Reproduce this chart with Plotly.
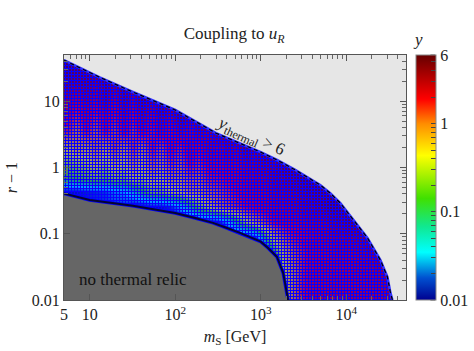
import numpy as np
import plotly.graph_objects as go

_ = None
FONT = "Liberation Serif"

mass = [5.5, 7, 9, 11.5, 15, 19, 25, 32, 41, 53, 68, 88, 113, 145, 187, 240, 310, 400, 510, 660, 850, 1090, 1400, 1800,
        2300, 3000, 3800, 4900, 6300, 8100, 10400, 13300, 17100, 22000, 28000, 36000]
r_minus_1 = [36, 20, 11, 6.2, 3.5, 2, 1.15, 0.7, 0.42, 0.25, 0.15, 0.085, 0.05, 0.03, 0.017, 0.011]
y_map = [
    [5, 5, 5, _, _, _, _, _, _, _, _, _, _, _, _, _, _, _, _, _, _, _, _, _, _, _, _, _, _, _, _, _, _, _, _, _],
    [4.5, 4, 4.5, 3.5, 5, 4, 5, _, _, _, _, _, _, _, _, _, _, _, _, _, _, _, _, _, _, _, _, _, _, _, _, _, _, _, _, _],
    [3, 2.4, 3.5, 2.4, 4, 2.6, 4, 3, 5, 4, 5.5, _, _, _, _, _, _, _, _, _, _, _, _, _, _, _, _, _, _, _, _, _, _, _, _, _],
    [2.2, 1.5, 2.6, 1.6, 2.6, 1.8, 3, 2, 3.5, 2.4, 4, 3, 5, 4, 5.5, _, _, _, _, _, _, _, _, _, _, _, _, _, _, _, _, _, _, _, _, _],
    [1.6, 0.9, 1.9, 1, 2, 1.2, 2.2, 1.3, 2.4, 1.6, 2.6, 2, 3, 2.4, 3.5, 3, 4.5, 4, 5.5, _, _, _, _, _, _, _, _, _, _, _, _, _, _, _, _, _],
    [0.5, 0.7, 0.6, 1, 0.6, 1.3, 0.7, 1.5, 0.8, 1.9, 1.1, 2.2, 1.5, 2.6, 2, 3, 2.6, 3.5, 3, 4.5, 4, 5.5, _, _, _, _, _, _, _, _, _, _, _, _, _, _],
    [0.25, 0.3, 0.35, 0.5, 0.3, 0.6, 0.4, 0.8, 0.5, 1.1, 0.7, 1.4, 1, 1.9, 1.4, 2.2, 2, 2.6, 2.4, 3, 3, 4, 3.5, 5, 5, 5.5, _, _, _, _, _, _, _, _, _, _],
    [0.14, 0.16, 0.2, 0.26, 0.2, 0.3, 0.25, 0.45, 0.35, 0.6, 0.45, 0.8, 0.7, 1.1, 0.95, 1.6, 1.7, 2, 2.2, 2.6, 2.8, 3, 3.5, 4, 4.5, 5, 5, 5.5, _, _, _, _, _, _, _, _],
    [0.012, 0.012, 0.014, 0.016, 0.018, 0.025, 0.03, 0.06, 0.12, 0.25, 0.25, 0.4, 0.45, 0.7, 0.7, 1, 1.1, 1.5, 1.9, 2.2, 2.4, 2.6, 3, 3.2, 3.6, 4, 4.5, 5, 5, 5.5, _, _, _, _, _, _],
    [_, _, _, _, _, _, _, 0.01, 0.01, 0.012, 0.012, 0.015, 0.03, 0.08, 0.2, 0.4, 0.8, 1.1, 1.4, 1.9, 2.2, 2.4, 2.6, 2.8, 3, 3.4, 3.8, 4.2, 5, 5, 5.5, 5.5, _, _, _, _],
    [_, _, _, _, _, _, _, _, _, _, _, _, _, 0.01, 0.01, 0.01, 0.012, 0.03, 0.1, 0.3, 0.7, 1.2, 1.9, 2.2, 2.4, 2.6, 2.8, 3, 3.4, 3.8, 4.5, 5, 5, _, _, _],
    [_, _, _, _, _, _, _, _, _, _, _, _, _, _, _, _, _, _, 0.01, 0.01, 0.012, 0.1, 0.5, 1, 1.6, 2, 2.4, 2.6, 2.8, 3, 3.2, 3.4, 3.8, 4.5, 5, _],
    [_, _, _, _, _, _, _, _, _, _, _, _, _, _, _, _, _, _, _, _, _, 0.01, 0.1, 0.5, 1, 1.6, 2.2, 2.4, 2.4, 2.6, 2.6, 2.8, 3, 3.4, 4, 5],
    [_, _, _, _, _, _, _, _, _, _, _, _, _, _, _, _, _, _, _, _, _, _, 0.01, 0.4, 0.8, 1.6, 2.2, 2.4, 2.4, 2.4, 2.4, 2.6, 2.6, 2.8, 3.2, 4],
    [_, _, _, _, _, _, _, _, _, _, _, _, _, _, _, _, _, _, _, _, _, _, _, 0.3, 0.8, 1.7, 2.2, 2.4, 2.4, 2.4, 2.4, 2.4, 2.4, 2.6, 2.8, 3.2],
    [_, _, _, _, _, _, _, _, _, _, _, _, _, _, _, _, _, _, _, _, _, _, _, 0.3, 0.8, 1.7, 2.2, 2.4, 2.4, 2.4, 2.4, 2.4, 2.4, 2.4, 2.6, 2.8],
]

# y_thermal = 6 edge and the thermal relic edge
upper_m = [5, 13.1, 30, 100, 300, 1000, 1550, 2530, 4960, 6500, 8530, 12100, 17700, 25100, 30300, 32900, 34700]
upper_r = [41.8, 23, 14.3, 7.4, 3.3, 1.71, 1.3, 0.92, 0.545, 0.41, 0.29, 0.161, 0.0865, 0.04, 0.0223, 0.0128, 0.01]
lower_m = [5, 10, 32, 53, 100, 180, 277, 404, 572, 1000, 1220, 1545, 1830, 2090]
lower_r = [0.405, 0.323, 0.265, 0.237, 0.206, 0.17, 0.146, 0.122, 0.103, 0.076, 0.061, 0.045, 0.0257, 0.01]

x_ticks = [5, 10, 100, 1000, 10000]
x_labels = ["5", "10", "10<sup>2</sup>", "10<sup>3</sup>", "10<sup>4</sup>"]
y_ticks = [0.01, 0.1, 1, 10]
y_labels = ["0.01", "0.1", "1", "10"]
cbar_minor = [0.02, 0.03, 0.04, 0.05, 0.06, 0.07, 0.08, 0.09, 0.2, 0.3, 0.4, 0.5, 0.6, 0.7, 0.8, 0.9, 2, 3, 4, 5]
cbar_major = [0.01, 0.1, 1, 6]

scale = [[0, "#000090"], [0.09, "#0050d0"], [0.195, "#00ffff"], [0.3, "#10e890"], [0.415, "#40e000"],
         [0.59, "#ffff00"], [0.72, "#ff8c00"], [0.82, "#ff0000"], [1, "#650000"]]

cb_vals = cbar_major + cbar_minor
cb_text = ["0.01", "0.1", "1", "6"] + [""] * len(cbar_minor)
z = np.log10(np.array(y_map, dtype=float))
zmax = np.log10(6)

fig = go.Figure()
fig.add_trace(go.Heatmap(
    x=mass, y=r_minus_1, z=z, zmin=-2, zmax=zmax, colorscale=scale, hoverongaps=False, zsmooth="best", connectgaps=True,
    colorbar=dict(
        x=1.0287, xanchor="left", xpad=0, y=0.5, ypad=0, len=1, thickness=19.5, outlinecolor="#888888", outlinewidth=1,
        tickmode="array", tickvals=np.log10(cb_vals), ticktext=cb_text, ticks="inside", ticklen=5, tickcolor="#444444",
        tickfont=dict(family=FONT, size=16, color="#222222"),
    ),
))

# the dense scatter of blue points that the colours show through
fig.add_trace(go.Scatter(
    x=upper_m + lower_m[::-1], y=upper_r + lower_r[::-1], mode="lines", fill="toself", hoverinfo="skip",
    line=dict(color="rgba(0,0,255,0)", width=0), fillcolor="rgba(0,0,0,0)",
    fillpattern=dict(shape="+", size=3, solidity=0.68, fgcolor="#0800ff", fgopacity=1, bgcolor="rgba(0,0,0,0)", fillmode="replace"),
))
# masked regions
fig.add_trace(go.Scatter(
    x=upper_m + [50000, 50000, 5], y=upper_r + [0.01, 50, 50], mode="lines", fill="toself", hoverinfo="skip",
    line=dict(width=0), fillcolor="#e6e6e6",
))
fig.add_trace(go.Scatter(
    x=lower_m + [5], y=lower_r + [0.01], mode="lines", fill="toself", hoverinfo="skip",
    line=dict(width=0), fillcolor="#666666",
))
fig.add_trace(go.Scatter(x=upper_m, y=upper_r, mode="lines", hoverinfo="skip", line=dict(color="#3030ff", width=2.5)))
fig.add_trace(go.Scatter(x=upper_m, y=upper_r, mode="lines", hoverinfo="skip",
                         line=dict(color="#000000", width=1.2, dash="4px,3px")))
fig.add_trace(go.Scatter(x=lower_m, y=lower_r, mode="lines", hoverinfo="skip", line=dict(color="#0000ff", width=3.5)))
fig.add_trace(go.Scatter(x=lower_m, y=lower_r, mode="lines", hoverinfo="skip", line=dict(color="#050530", width=2)))

axis = dict(type="log", showgrid=False, zeroline=False, showline=True, linecolor="#555555", linewidth=1.2, mirror="ticks",
            ticks="inside", ticklen=6, tickcolor="#555555", tickfont=dict(family=FONT, size=16, color="#222222"),
            tickmode="array", minor=dict(ticks="inside", ticklen=4, tickcolor="#666666", dtick="D1", showgrid=False))
fig.update_xaxes(axis, range=[np.log10(5), np.log10(50000)], tickvals=x_ticks, ticktext=x_labels,
                 title=dict(text="<i>m</i><sub>S</sub> [GeV]", font=dict(family=FONT, size=16, color="#222222"), standoff=8))
fig.update_yaxes(axis, range=[-2, np.log10(50)], tickvals=y_ticks, ticktext=y_labels,
                 title=dict(text="<i>r</i> − 1", font=dict(family=FONT, size=16, color="#222222"), standoff=10))

fig.add_annotation(x=np.log10(750), y=np.log10(2.85), text="<i>y</i><sub>thermal</sub> &gt; 6", textangle=24, showarrow=False,
                   font=dict(family=FONT, size=17, color="#222222"))
fig.add_annotation(x=np.log10(32), y=np.log10(0.0205), text="no thermal relic", showarrow=False,
                   font=dict(family=FONT, size=17, color="#111111"))
# colour bar heading, it would shrink the bar if given as the bar's own title
fig.add_annotation(xref="paper", yref="paper", x=1.057, y=1.015, yanchor="bottom", text="<i>y</i>", showarrow=False,
                   font=dict(family=FONT, size=17, color="#222222"))

# ticks on the far side of the colour bar as well
for v in cb_vals:
    pos = (np.log10(v) + 2) / (zmax + 2)
    fig.add_shape(type="line", xref="paper", yref="paper", x0=1.0714, x1=1.0857, y0=pos, y1=pos,
                  line=dict(color="#444444", width=1))

fig.update_layout(
    width=474, height=351, margin=dict(l=64, r=68.3, t=54.5, b=51, autoexpand=False), showlegend=False,
    plot_bgcolor="#e6e6e6", paper_bgcolor="white",
    title=dict(text="Coupling to <i>u<sub>R</sub></i>", x=0.494, xanchor="center", y=0.905, yanchor="middle",
               font=dict(family=FONT, size=17, color="#222222")),
)
fig.write_html("out.html", config={"displayModeBar": False}, post_script="document.body.style.margin='0';")
